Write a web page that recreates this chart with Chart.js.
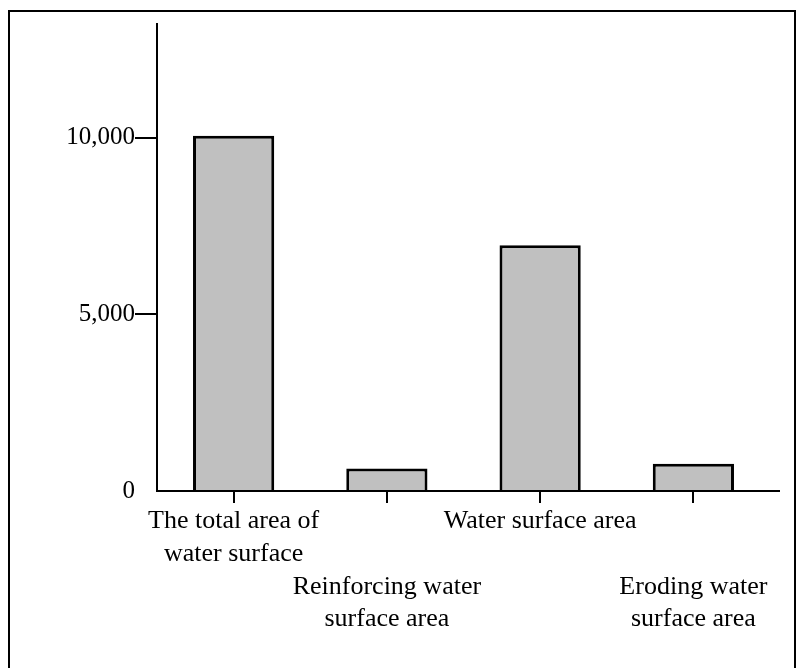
<!DOCTYPE html>
<html>
<head>
<meta charset="utf-8">
<script src="https://cdn.jsdelivr.net/npm/chart.js@4"></script>
<style>
  html, body { margin: 0; padding: 0; background: #fff; }
  canvas { display: block; }
</style>
</head>
<body>
<canvas id="c" width="802" height="668"></canvas>
<script>
// ---- data ----
const categories = [
  ["The total area of", "water surface"],
  ["", "", "Reinforcing water", "surface area"],
  ["Water surface area"],
  ["", "", "Eroding water", "surface area"]
];
const areaValues = [10060, 640, 6960, 770];
const yTickValues = [0, 5000, 10000];
const yTickLabels = ["0", "5,000", "10,000"];

const FONT = "'Liberation Serif', 'Times New Roman', serif";

const framePlugin = {
  id: 'frame',
  beforeDraw(chart) {
    const ctx = chart.ctx;
    ctx.save();
    ctx.fillStyle = '#fff';
    ctx.fillRect(0, 0, chart.width, chart.height);
    ctx.strokeStyle = '#000';
    ctx.lineWidth = 2;
    ctx.strokeRect(9, 11, 786, 720);
    ctx.restore();
  },
  afterDraw(chart) {
    const a = chart.chartArea;
    const ctx = chart.ctx;
    ctx.save();
    ctx.strokeStyle = '#000';
    ctx.lineWidth = 2;
    ctx.beginPath();
    ctx.moveTo(a.left, a.top);
    ctx.lineTo(a.left, a.bottom);
    ctx.lineTo(a.right + 10, a.bottom);
    ctx.stroke();
    ctx.restore();
  }
};

new Chart(document.getElementById('c'), {
  type: 'bar',
  data: {
    labels: categories,
    datasets: [{
      data: areaValues,
      backgroundColor: '#c0c0c0',
      borderColor: '#000',
      borderWidth: 3,
      barPercentage: 0.53,
      categoryPercentage: 1.0
    }]
  },
  options: {
    responsive: false,
    animation: false,
    devicePixelRatio: 1,
    layout: { padding: { left: 0, right: 32, top: 23, bottom: 0 } },
    plugins: { legend: { display: false }, tooltip: { enabled: false } },
    scales: {
      x: {
        offset: true,
        border: { display: false },
        grid: { display: true, drawOnChartArea: false, drawTicks: true, tickLength: 12, offset: false, color: '#000', lineWidth: 2 },
        ticks: {
          autoSkip: false, maxRotation: 0, minRotation: 0, padding: 2,
          color: '#000',
          font: { family: FONT, size: 26, lineHeight: 1.26 }
        },
        afterFit(scale) { scale.height = 177; }
      },
      y: {
        min: 0,
        max: 13250,
        border: { display: false },
        grid: {
          display: true, drawOnChartArea: false, drawTicks: true, tickLength: 22, lineWidth: 2,
          color: (c) => (c.tick && c.tick.value === 0) ? 'rgba(0,0,0,0)' : '#000'
        },
        ticks: {
          padding: 0,
          color: '#000',
          font: { family: FONT, size: 25 },
          callback: (v) => { const i = yTickValues.indexOf(v); return i >= 0 ? yTickLabels[i] : ''; }
        },
        afterBuildTicks(scale) { scale.ticks = yTickValues.map(v => ({ value: v })); },
        afterFit(scale) { scale.width = 157; }
      }
    }
  },
  plugins: [framePlugin]
});
</script>
</body>
</html>
